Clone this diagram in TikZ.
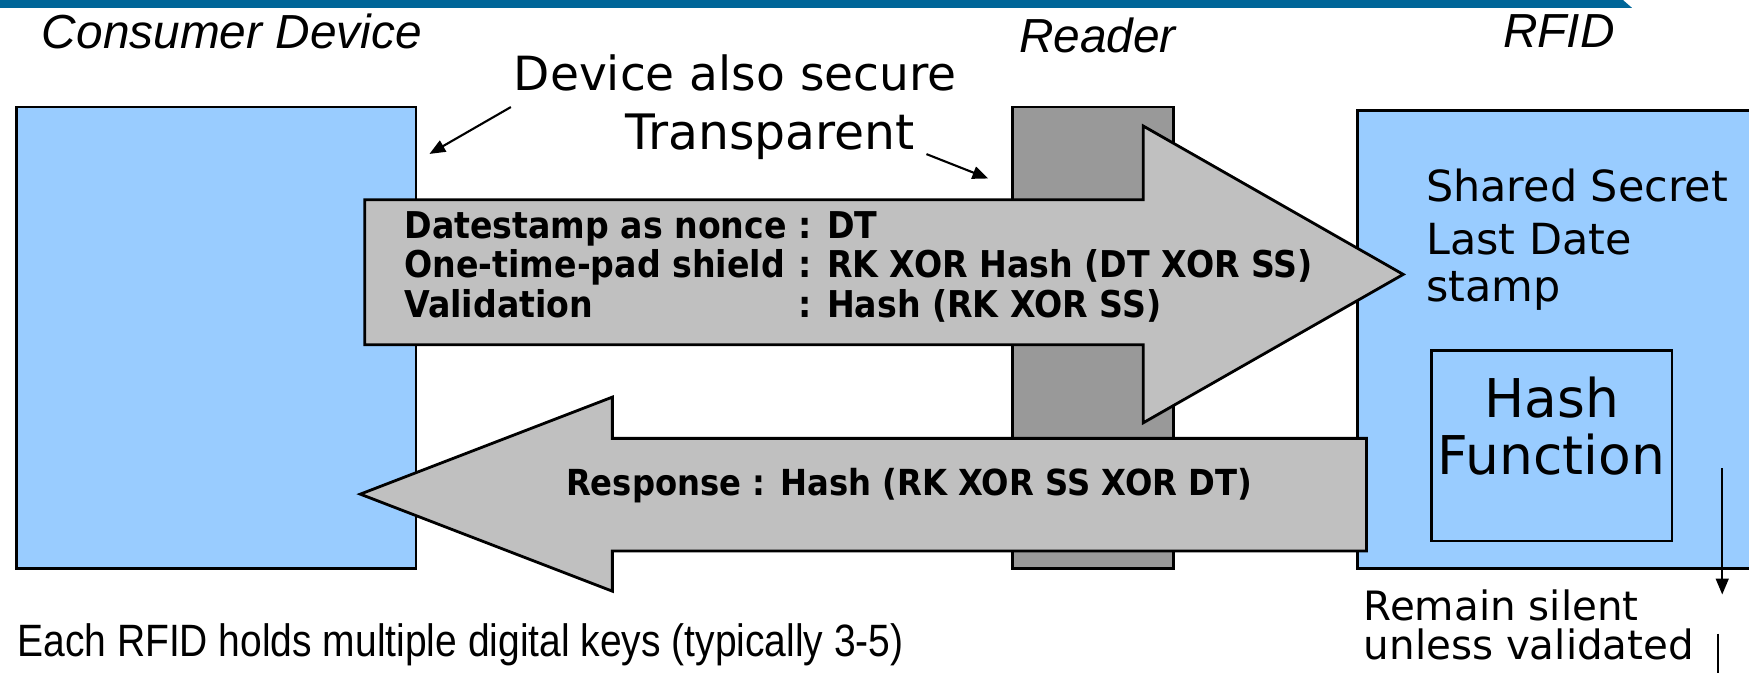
\documentclass[tikz,border=0pt]{standalone}
\usepackage{fontspec}
\setmainfont{DejaVu Sans}
\newfontfamily\arialfont{Liberation Sans}
\newfontfamily\arialnarrow[FakeStretch=0.86]{Liberation Sans}
\newfontfamily\condfont{DejaVu Sans Condensed}
\usetikzlibrary{arrows.meta}
\definecolor{devblue}{HTML}{99CCFF}
\definecolor{readgray}{HTML}{999999}
\definecolor{pipegray}{HTML}{C0C0C0}
\definecolor{barblue}{HTML}{006699}
\begin{document}
\def\px{0.11154mm}
\begin{tikzpicture}[x=\px, y=-\px,
  blk/.style={draw=black, line width=0.8pt, rectangle,
              inner sep=0pt, outer sep=0pt},
  devbox/.style={blk, fill=devblue},
  readbox/.style={blk, fill=readgray},
  pipe/.style={draw=black, line width=0.8pt, fill=pipegray},
  hdr/.style={font=\arialfont\itshape\fontsize{13.6}{16}\selectfont,
              inner sep=0pt, anchor=west},
  note/.style={font=\fontsize{13.4}{16}\selectfont,
               inner sep=0pt, anchor=west, align=left},
  msg/.style={font=\condfont\bfseries\fontsize{10.5}{10.8}\selectfont, inner sep=0pt},
  ptr/.style={-{Triangle[length=4.5pt, width=3.6pt]}, line width=0.6pt},
]
\clip (0,0) rectangle (1568,603);
% Top rule
\fill[barblue] (0,0) -- (1455,0) -- (1463,7) -- (0,7) -- cycle;
% Parties
\node[devbox, minimum width={358*\px}, minimum height={414*\px}] (cons) at (194,303) {};
\node[readbox, minimum width={144*\px}, minimum height={414*\px}] (rdr) at (980,303) {};
\node[devbox, minimum width={363*\px}, minimum height={411*\px}] (rfid) at (1398.5,304.5) {};
% Headers
\node[hdr] (hcons) at (37,28) {Consumer Device};
\node[hdr] (hrdr) at (913,32) {Reader};
\node[hdr] (hrfid) at (1347,28) {RFID};
% Challenge arrow
\draw[pipe] (327,179) -- (1025,179) -- (1025,113) -- (1258,246)
  -- (1025,379) -- (1025,309) -- (327,309) -- cycle;
\node[msg, anchor=west] (fwd) at (362,242) {%
  \begin{tabular}{@{}l@{\ }l@{}}
  Datestamp as nonce & : DT\\
  One-time-pad shield & : RK XOR Hash (DT XOR SS)\\
  Validation & : Hash (RK XOR SS)
  \end{tabular}};
% Response arrow
\draw[pipe] (1225,393) -- (549,393) -- (549,356) -- (323,443)
  -- (549,530) -- (549,494) -- (1225,494) -- cycle;
\node[msg, font=\condfont\bfseries\fontsize{10.2}{12}\selectfont] (back) at (815,435) {Response : Hash (RK XOR SS XOR DT)};
% Notes
\node[note] (secure) at (460,65) {Device also secure};
\node[note, font=\fontsize{13.9}{16}\selectfont] (transp) at (560,123) {Transparent};
\coordinate (securetip) at (385,138);
\coordinate (transptip) at (886,160);
\draw[ptr] ([shift={(-2,14)}]secure.south west) -- (securetip);
\draw[ptr] ([shift={(10,-6)}]transp.south east) -- (transptip);
% RFID store
\node[note, font=\fontsize{12.2}{13}\selectfont] (secret) at (1278,166) {Shared Secret};
\node[note, font=\fontsize{12.2}{13.3}\selectfont] (lastdate) at (1278,239) {Last Date\\stamp};
\node[devbox, minimum width={216*\px}, minimum height={171*\px}] (hash) at (1391,399.5) {};
\node[font=\fontsize{15.2}{16.2}\selectfont, align=center, inner sep=0pt] (hashtxt) at (1391,382) {Hash\\Function};
% Silent unless validated
\coordinate (outtop) at (1544,420);
\coordinate (outbot) at (1544,533);
\coordinate (tailtop) at (1540,568);
\coordinate (tailbot) at (1540,610);
\draw[ptr] (outtop) -- (outbot);
\draw[line width=0.6pt] (tailtop) -- (tailbot);
\node[note, font=\fontsize{11.5}{11.1}\selectfont] (silent) at (1222,560) {Remain silent\\unless validated};
% Footnote
\node[hdr, font=\arialnarrow\fontsize{12.9}{13}\selectfont] (keys) at (15,578) {Each RFID holds multiple digital keys (typically 3-5)};
\end{tikzpicture}
\end{document}
